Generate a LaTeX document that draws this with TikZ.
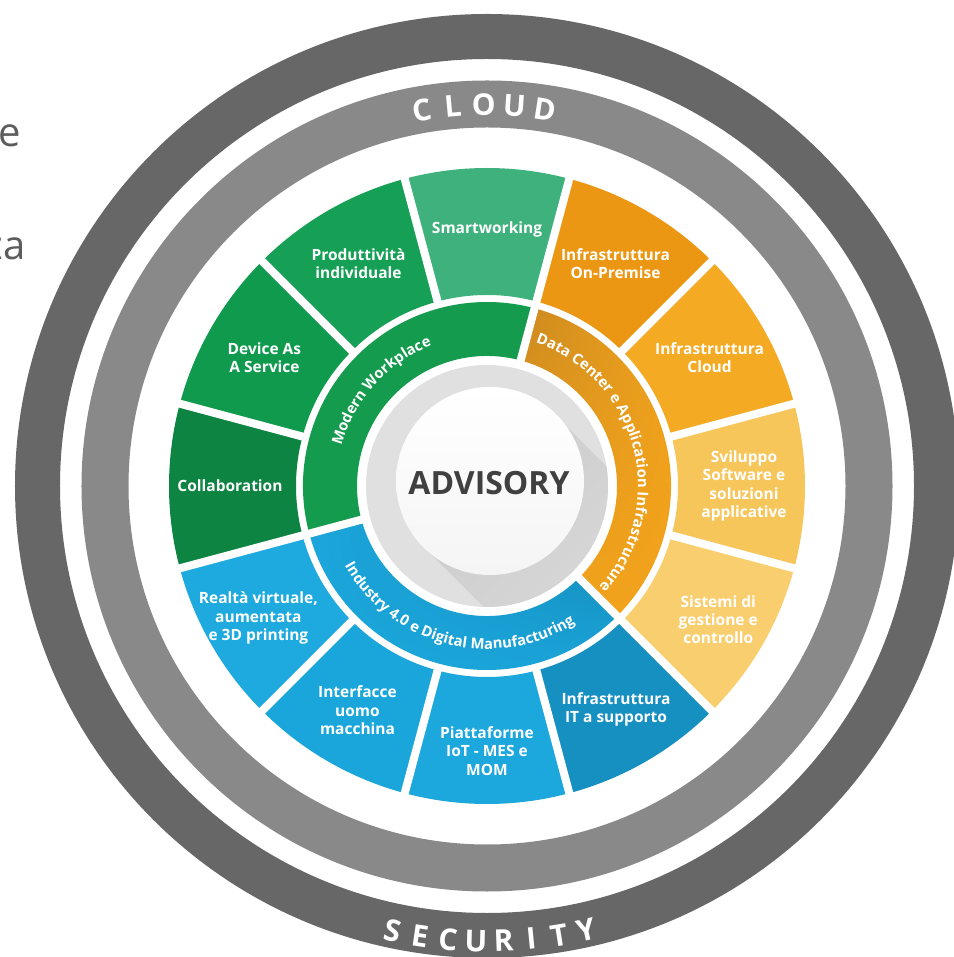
\documentclass[tikz,border=0pt]{standalone}
\usepackage{fontspec}
\setmainfont{Open Sans}
\usetikzlibrary{decorations.text, shadings}

\definecolor{cdark}{HTML}{676767}
\definecolor{clight}{HTML}{898989}
\definecolor{ccollab}{HTML}{0D8442}
\definecolor{cdevice}{HTML}{109A4E}
\definecolor{cprod}{HTML}{15A056}
\definecolor{csmart}{HTML}{3FB17D}
\definecolor{conprem}{HTML}{EC9713}
\definecolor{ccloudinf}{HTML}{F4AA22}
\definecolor{csviluppo}{HTML}{F7C65B}
\definecolor{csistemi}{HTML}{F9CE6E}
\definecolor{citsup}{HTML}{168FC1}
\definecolor{ciot}{HTML}{1CA7DD}
\definecolor{chmi}{HTML}{1AA6DB}
\definecolor{crealta}{HTML}{1FAADF}
\definecolor{cmw}{HTML}{159B4E}
\definecolor{cdc}{HTML}{F2A31C}
\definecolor{cdcdark}{HTML}{CC8A1F}
\definecolor{cind}{HTML}{1BA6DB}
\definecolor{cinddark}{HTML}{1488B6}
\definecolor{ctext}{HTML}{404040}
\definecolor{cside}{HTML}{5C5C5C}
\definecolor{discgray}{HTML}{E0E0E0}
\definecolor{discshadow}{HTML}{CCCCCC}

\newcommand\bandfont{\bfseries\fontsize{14.8}{14.8}\selectfont}

\begin{document}
\begin{tikzpicture}[x=1pt, y=1pt]
        \tikzstyle{gap}=[white, line width=8pt]
        \tikzstyle{lbl}=[text=white, font=\bfseries\fontsize{15.5}{18.3}\selectfont, align=center, inner sep=0pt]
        \tikzstyle{ringchar}=[text=white, font=\bfseries\fontsize{30}{30}\selectfont, inner sep=0pt]
        \tikzstyle{sidetext}=[text=cside, font=\fontsize{40}{40}\selectfont, inner sep=0pt]
        \tikzstyle{mwband}=[top color=cmw, bottom color=cmw]
        \tikzstyle{dcband}=[upper left=cdcdark, upper right=cdc, lower left=cdc, lower right=cdc]
        \tikzstyle{indband}=[upper right=cinddark, upper left=cind, lower left=cind, lower right=cind]

        \useasboundingbox[fill=white] (-487,-471) rectangle (466,486);

        % outer rings
        \draw[cdark, line width=45pt] (0,0) circle (449.5);
        \draw[clight, line width=47pt] (0,0) circle (382);

        % outer sectors
        \foreach \n/\a/\r/\txt in {collab/180/257/Collaboration, device/150/257/{Device As\\A Service},
                prod/120/257/{Produttività\\individuale}, smart/90/257/Smartworking,
                onprem/60/257/{Infrastruttura\\On-Premise}, cloudinf/30/257/{Infrastruttura\\Cloud},
                sviluppo/0/257/{Sviluppo\\Software e\\soluzioni\\applicative},
                sistemi/-30/267/{Sistemi di\\gestione e\\controllo},
                itsup/-60/258/{Infrastruttura\\IT a supporto}, iot/-90/265/{Piattaforme\\IoT - MES e\\MOM},
                hmi/-120/259/{Interfacce\\uomo\\macchina}, realta/-150/264/{Realtà virtuale,\\aumentata\\e 3D printing}} {
            \fill[fill=c\n] ({\a+15}:191) arc[start angle=\a+15, end angle=\a-15, radius=191]
                -- ({\a-15}:318) arc[start angle=\a-15, end angle=\a+15, radius=318] -- cycle;
            \node[lbl] (\n) at (\a:\r) {\txt};
        }
        \foreach \b in {15,45,...,345}
            \draw[gap] (\b:186) -- (\b:323);

        % inner band
        \foreach \a/\b/\sty in {75/195/mwband, -45/75/dcband, 195/315/indband}
            \shade[\sty] (\a:130) arc[start angle=\a, end angle=\b, radius=130]
                -- (\b:184) arc[start angle=\b, end angle=\a, radius=184] -- cycle;
        \foreach \b in {75,195,315}
            \draw[gap] (\b:124) -- (\b:190);

        \path[decorate, decoration={text along path, text align=center, text color=white,
                text={|\bandfont|Modern Workplace}}]
            (198:151) arc[start angle=198, end angle=78, radius=151];
        \path[decorate, decoration={text along path, text align=center, text color=white,
                text={|\bandfont|Data Center e Application Infrastructure}}]
            (80:151) arc[start angle=80, end angle=-51, radius=151];
        \path[decorate, decoration={text along path, text align=center, text color=white,
                text={|\bandfont|Industry 4.0 e Digital Manufacturing}}]
            (-164:163) arc[start angle=-164, end angle=-44, radius=163];

        % centre disc
        \fill[discgray] (0,0) circle (121);
        \begin{scope}
            \clip (0,0) circle (121);
            \shade[top color=discshadow, bottom color=discgray, shading angle=45]
                (68.5,70.5) -- (252.3,-113.3) -- (120.7,-244.9) -- (-63.1,-61.1) -- cycle;
        \end{scope}
        \shade[top color=white, bottom color=gray!8] (3,5) circle (94);
        \node[text=ctext, font=\bfseries\fontsize{32}{32}\selectfont] (advisory) at (2,3) {ADVISORY};

        % ring words
        \foreach \l [count=\i] in {C,L,O,U,D} {
            \pgfmathsetmacro\ang{99.8-(\i-1)*4.65}
            \node[ringchar, rotate=\ang-90] (cloud\i) at (\ang:381) {\l};
        }
        \foreach \l [count=\i] in {S,E,C,U,R,I,T,Y} {
            \pgfmathsetmacro\ang{-101.9+(\i-1)*3.5}
            \node[ringchar, rotate=\ang+90] (security\i) at (\ang:455) {\l};
        }

        \node[sidetext, anchor=base east] (frag1) at (-466,339) {e};
        \node[sidetext, anchor=base east] (frag2) at (-461,226) {za};
    \end{tikzpicture}
\end{document}
